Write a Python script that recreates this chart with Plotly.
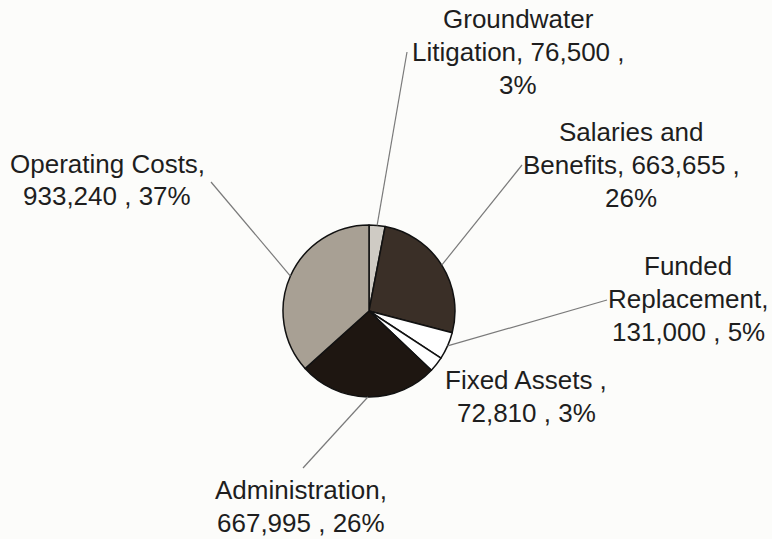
import math
import plotly.graph_objects as go

# ---- data ----
categories = ["Groundwater Litigation", "Salaries and Benefits", "Funded Replacement",
              "Fixed Assets", "Administration", "Operating Costs"]
values = [76500, 663655, 131000, 72810, 667995, 933240]
label_lines = [
    ["Groundwater", "Litigation, 76,500 ,", "3%"],
    ["Salaries and", "Benefits, 663,655 ,", "26%"],
    ["Funded", "Replacement,", "131,000 , 5%"],
    ["Fixed Assets ,", "72,810 , 3%"],
    ["Administration,", "667,995 , 26%"],
    ["Operating Costs,", "933,240 , 37%"],
]
colors = ["#cfcbc4", "#3a2f27", "#ffffff", "#ffffff", "#1e1611", "#a8a094"]

# ---- layout constants ----
W, H = 772, 539
CX, CY, R = 369, 311, 86
LINE_GAP = 33
label_pos = [(518, 52), (631, 165), (688, 299), (526, 396), (301, 506), (107, 180)]
leader_end = [(407, 52), (522, 165), (607, 300), None, (303, 468), (211, 182)]

fig = go.Figure(go.Pie(
    labels=categories, values=values, sort=False, direction="clockwise", rotation=0,
    marker=dict(colors=colors, line=dict(color="#111111", width=1.5)),
    textinfo="none", hoverinfo="label+value+percent", showlegend=False,
    domain=dict(x=[(CX - R) / W, (CX + R) / W], y=[(H - CY - R) / H, (H - CY + R) / H]),
))

total = sum(values)
cum = 0
shapes, annotations = [], []
for i, v in enumerate(values):
    mid = (cum + v / 2) / total * 2 * math.pi
    cum += v
    px = CX + R * math.sin(mid)
    py = CY - R * math.cos(mid)
    if leader_end[i] is not None:
        ex, ey = leader_end[i]
        shapes.append(dict(type="line", xref="paper", yref="paper",
                           x0=px / W, y0=1 - py / H, x1=ex / W, y1=1 - ey / H,
                           line=dict(color="#7a7a7a", width=1.2)))
    lx, ly = label_pos[i]
    n = len(label_lines[i])
    for k, line in enumerate(label_lines[i]):
        yy = ly + (k - (n - 1) / 2) * LINE_GAP
        annotations.append(dict(text=line, x=lx / W, y=1 - yy / H, xref="paper", yref="paper",
                                xanchor="center", yanchor="middle", showarrow=False,
                                font=dict(family="Liberation Sans, Arial, sans-serif", size=26,
                                          color="#1e1e1e")))

fig.update_layout(
    width=W, height=H, margin=dict(l=0, r=0, t=0, b=0),
    paper_bgcolor="#fcfcfa", plot_bgcolor="#fcfcfa",
    shapes=shapes, annotations=annotations,
)
fig.write_html("out.html", config={"displayModeBar": False},
               post_script="document.body.style.margin='0';document.body.style.overflow='hidden';")
